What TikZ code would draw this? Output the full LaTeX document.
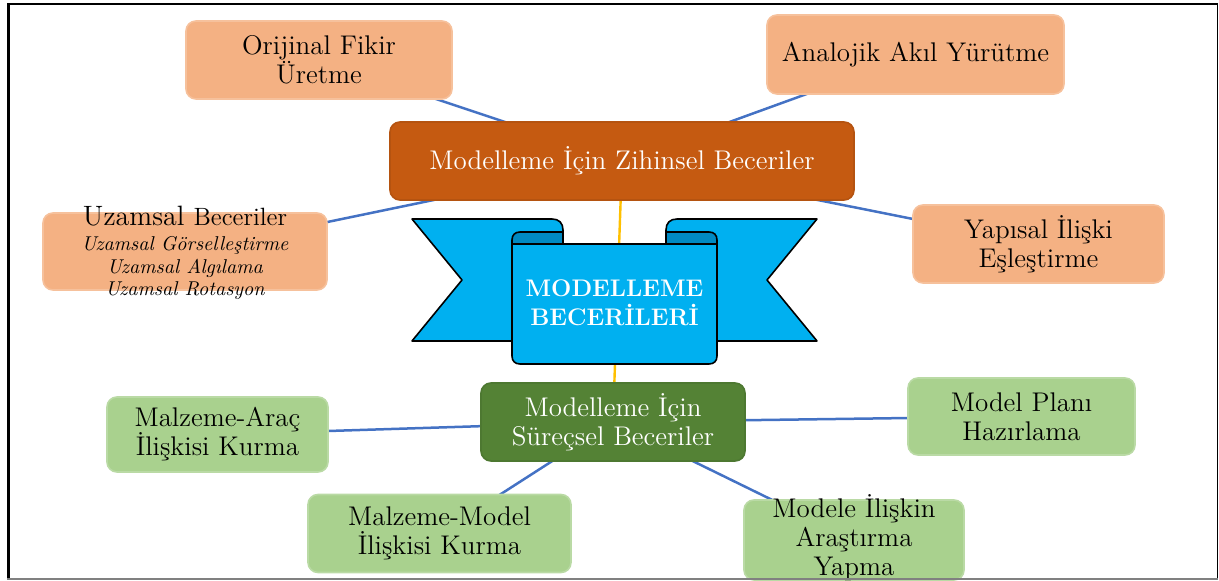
\documentclass[tikz,border=0pt]{standalone}
\usetikzlibrary{backgrounds}
\definecolor{peach}{HTML}{F4B183}
\definecolor{darkorange}{HTML}{C55A11}
\definecolor{darkgreen}{HTML}{548235}
\definecolor{lightgreen}{HTML}{A9D18E}
\definecolor{connblue}{HTML}{4472C4}
\definecolor{gold}{HTML}{FFC000}
\definecolor{ribbon}{HTML}{00B0F0}
\definecolor{ribbondark}{HTML}{0089C2}
\tikzset{
  box/.style={rounded corners=5pt, inner sep=1pt, align=center, font=\fontsize{13.5}{14.5}\selectfont, line width=0.8pt},
  peachbox/.style={box, fill=peach, draw=peach!80!white},
  orangebox/.style={box, fill=darkorange, draw=darkorange!92!black, text=white},
  greenbox/.style={box, fill=darkgreen, draw=darkgreen!92!black, text=white},
  lgreenbox/.style={box, fill=lightgreen, draw=lightgreen!80!white},
  conn/.style={draw=connblue, line width=1.25pt},
  goldline/.style={draw=gold, line width=1.2pt},
  ribbonpart/.style={fill=ribbon, draw=black, line width=0.8pt, line join=round},
  foldpart/.style={fill=ribbondark, draw=black, line width=0.8pt, line join=round},
  bannertext/.style={font=\fontsize{12}{14.5}\selectfont\bfseries, text=white, align=center},
}
\begin{document}
\begin{tikzpicture}[x=0.5pt,y=-0.5pt]
\useasboundingbox (0,0) rectangle (1219,581);

% nodes
\node[peachbox, minimum width=133pt, minimum height=39pt] (orig) at (319,60) {Orijinal Fikir\\Üretme};
\node[peachbox, minimum width=148.5pt, minimum height=39.5pt] (anal) at (915.5,54.5) {Analojik Akıl Yürütme};
\node[orangebox, minimum width=232pt, minimum height=39pt] (zih) at (622,161) {Modelleme İçin Zihinsel Beceriler};
\node[peachbox, minimum width=142pt, minimum height=38.5pt] (uz) at (185,251.5) {};
\node[align=center, font=\fontsize{10}{11.25}\selectfont\itshape] (uztext) at (185,253)
  {{\upshape\fontsize{14}{15}\selectfont Uzamsal \fontsize{12.5}{15}\selectfont Beceriler}\\[1.3pt]
   Uzamsal Görselleştirme\\ Uzamsal Algılama\\ Uzamsal Rotasyon};
\node[peachbox, minimum width=125.5pt, minimum height=39pt] (yap) at (1038.5,244) {Yapısal İlişki\\Eşleştirme};

\node[greenbox, minimum width=132pt, minimum height=39pt] (sur) at (613,422) {Modelleme İçin\\Süreçsel Beceriler};
\node[lgreenbox, minimum width=110.5pt, minimum height=37.5pt] (mar) at (217.5,434.5) {Malzeme-Araç\\İlişkisi Kurma};
\node[lgreenbox, minimum width=113.5pt, minimum height=38.5pt] (mpl) at (1021.5,416.5) {Model Planı\\Hazırlama};
\node[lgreenbox, minimum width=131.5pt, minimum height=39pt] (mmo) at (439.5,533.5) {Malzeme-Model\\İlişkisi Kurma};
\node[lgreenbox, minimum width=110pt, minimum height=40pt] (mil) at (854,540) {};
\node[align=center, font=\fontsize{13.5}{14.5}\selectfont] (miltext) at (854,538) {Modele İlişkin\\Araştırma\\Yapma};

% connectors
\begin{pgfonlayer}{background}
\draw[goldline] (zih.center) -- (sur.center);
\draw[conn] (orig.center) -- (zih.center);
\draw[conn] (anal.center) -- (zih.center);
\draw[conn] (uz.center) -- (zih.center);
\draw[conn] (yap.center) -- (zih.center);
\draw[conn] (mar.center) -- (sur.center);
\draw[conn] (mpl.center) -- (sur.center);
\draw[conn] (mmo.center) -- (sur.center);
\draw[conn] (mil.center) -- (sur.center);
\end{pgfonlayer}

% banner
\draw[ribbonpart] (412,219) -- (552,219) .. controls (559,219) and (563,223) .. (563,230) -- (563,341) -- (412,341) -- (462,280) -- cycle;
\draw[ribbonpart] (817,219) -- (677,219) .. controls (670,219) and (666,223) .. (666,230) -- (666,341) -- (817,341) -- (767,280) -- cycle;
\draw[foldpart] (512,246) -- (512,240) .. controls (512,235) and (515,232) .. (520,232) -- (563,232) -- (563,246) -- cycle;
\draw[foldpart] (717,246) -- (717,240) .. controls (717,235) and (714,232) .. (709,232) -- (666,232) -- (666,246) -- cycle;
\draw[ribbonpart] (512,244) -- (512,356) .. controls (512,361) and (515,364) .. (520,364) -- (709,364) .. controls (714,364) and (717,361) .. (717,356) -- (717,244) -- cycle;
\node[bannertext] (title) at (614.5,303) {MODELLEME\\BECERİLERİ};

% frame
\draw[line width=1pt] (7,4) -- (1218,4);
\draw[line width=1.5pt] (8,3.5) -- (8,579);
\draw[line width=0.8pt] (1217.5,3.5) -- (1217.5,579);
\draw[gray, line width=1pt] (7.3,579) -- (1218,579);
\end{tikzpicture}
\end{document}
